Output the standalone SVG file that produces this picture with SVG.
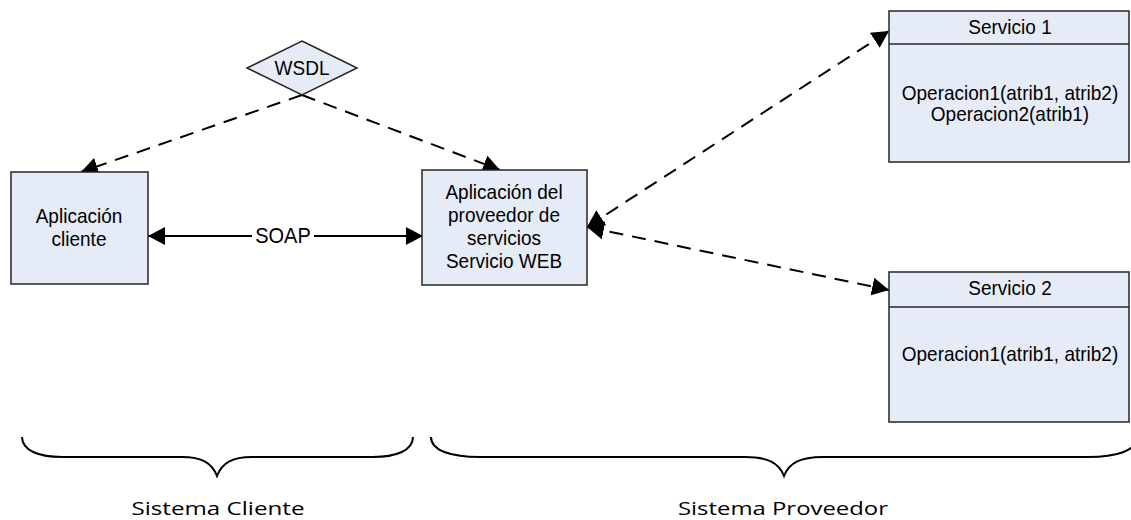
<svg xmlns="http://www.w3.org/2000/svg" width="1131" height="520" viewBox="0 0 1131 520">
<style>
.box{fill:#e6ecf7;stroke:#262626;stroke-width:1.5}
.t{font-family:"Liberation Sans",Arial,sans-serif;font-size:19px;fill:#000;text-anchor:middle}
.b{font-family:"Open Sans","DejaVu Sans",sans-serif;font-size:19px;fill:#000;text-anchor:middle}
.dash{fill:none;stroke:#000;stroke-width:2;stroke-dasharray:14 9}
.solid{fill:none;stroke:#000;stroke-width:2}
.brace{fill:none;stroke:#000;stroke-width:2}
</style>
<defs>
<marker id="arr" viewBox="0 0 17 18" refX="17" refY="9" markerWidth="17" markerHeight="18" markerUnits="userSpaceOnUse" orient="auto-start-reverse">
<path d="M0,0 L17,9 L0,18 z" fill="#000"/>
</marker>
</defs>
<rect width="1131" height="520" fill="#fff"/>
<g id="connectors">
<line class="solid" x1="148" y1="236" x2="252" y2="236" marker-start="url(#arr)"/>
<line class="solid" x1="314" y1="236" x2="423" y2="236" marker-end="url(#arr)"/>
<text class="t" transform="translate(283,243) scale(1,1.1)" style="font-size:20px">SOAP</text>
<line class="dash" x1="302" y1="95" x2="81" y2="172" marker-end="url(#arr)"/>
<line class="dash" x1="302" y1="95" x2="500" y2="170" marker-end="url(#arr)"/>
<line class="dash" x1="587" y1="227" x2="889" y2="31" marker-start="url(#arr)" marker-end="url(#arr)"/>
<line class="dash" x1="587" y1="227" x2="889" y2="290" marker-start="url(#arr)" marker-end="url(#arr)"/>
</g>
<g id="wsdl">
<polygon class="box" points="302,41 357,68 302,95 247,68"/>
<text class="t" transform="translate(302,75) scale(1,1.1)">WSDL</text>
</g>
<g id="cliente">
<rect class="box" x="11" y="172" width="137" height="112"/>
<text class="t" transform="translate(79,223) scale(1,1.1)">Aplicación</text>
<text class="t" transform="translate(79,246) scale(1,1.1)">cliente</text>
</g>
<g id="proveedor">
<rect class="box" x="422" y="170" width="165" height="115"/>
<text class="t" transform="translate(504,199) scale(1,1.1)">Aplicación del</text>
<text class="t" transform="translate(504,222) scale(1,1.1)">proveedor de</text>
<text class="t" transform="translate(504,245) scale(1,1.1)">servicios</text>
<text class="t" transform="translate(504,268) scale(1,1.1)">Servicio WEB</text>
</g>
<g id="servicio1">
<rect class="box" x="889" y="11" width="240" height="151"/>
<line x1="889" y1="44" x2="1129" y2="44" stroke="#262626" stroke-width="1.5"/>
<text class="t" transform="translate(1010,34) scale(1,1.1)">Servicio 1</text>
<text class="t" transform="translate(1010,100) scale(1,1.1)">Operacion1(atrib1, atrib2)</text>
<text class="t" transform="translate(1010,121) scale(1,1.1)">Operacion2(atrib1)</text>
</g>
<g id="servicio2">
<rect class="box" x="889" y="272" width="240" height="150"/>
<line x1="889" y1="307" x2="1129" y2="307" stroke="#262626" stroke-width="1.5"/>
<text class="t" transform="translate(1010,295) scale(1,1.1)">Servicio 2</text>
<text class="t" transform="translate(1010,361) scale(1,1.1)">Operacion1(atrib1, atrib2)</text>
</g>
<g id="sistema-cliente">
<path class="brace" d="M22,437 C22,451 40,457 62,457 L182,457 C202,457 212,463 217,476 C222,463 232,457 252,457 L373,457 C395,457 413,451 413,437"/>
<text class="b" x="218" y="515" textLength="173" lengthAdjust="spacingAndGlyphs">Sistema Cliente</text>
</g>
<g id="sistema-proveedor">
<path class="brace" d="M431,437 C431,451 452,457 480,457 L745,457 C768,457 779,463 784,476 C789,463 800,457 823,457 L1088,457 C1116,457 1137,451 1137,437"/>
<text class="b" x="783" y="515" textLength="210" lengthAdjust="spacingAndGlyphs">Sistema Proveedor</text>
</g>
</svg>
